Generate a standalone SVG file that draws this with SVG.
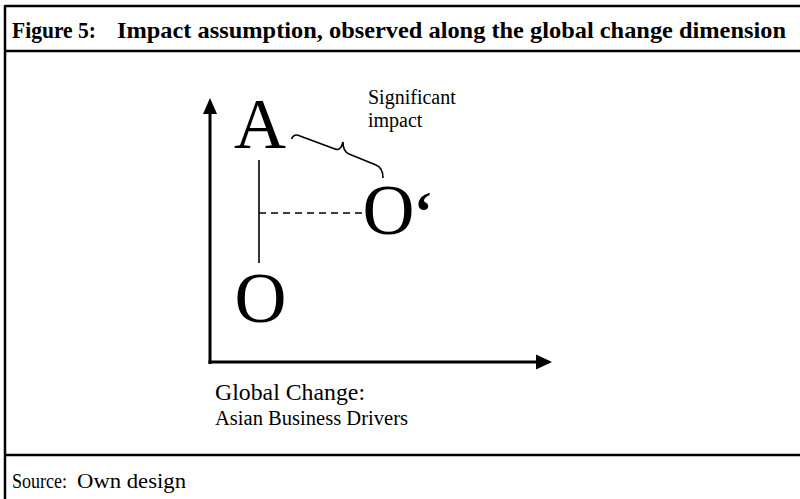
<svg xmlns="http://www.w3.org/2000/svg" width="800" height="499" viewBox="0 0 800 499">
<style>
.frame{stroke:#000;stroke-width:2.5;fill:none}
.serif{font-family:"Liberation Serif","Times New Roman",serif;fill:#000}
.big{font-size:72px}
.axis{stroke:#000;stroke-width:3;fill:none}
.thin{stroke:#000;stroke-width:1.6;fill:none}
</style>
<rect width="800" height="499" fill="#fff"/>
<g id="frame">
<line class="frame" x1="5" y1="6" x2="800" y2="6"/>
<line class="frame" x1="5" y1="51" x2="800" y2="51"/>
<line class="frame" x1="5" y1="455" x2="800" y2="455"/>
<line class="frame" x1="5" y1="5" x2="5" y2="499"/>
</g>
<g id="title">
<text class="serif" x="12" y="38" font-size="23" font-weight="bold" textLength="84" lengthAdjust="spacingAndGlyphs">Figure 5:</text>
<text class="serif" x="117" y="38" font-size="23" font-weight="bold" textLength="669" lengthAdjust="spacingAndGlyphs">Impact assumption, observed along the global change dimension</text>
</g>
<g id="source">
<text class="serif" x="12" y="488" font-size="20.5" textLength="55" lengthAdjust="spacingAndGlyphs">Source:</text>
<text class="serif" x="77" y="488" font-size="20.5" textLength="109" lengthAdjust="spacingAndGlyphs">Own design</text>
</g>
<g id="connectors">
<line class="axis" x1="210" y1="364" x2="210" y2="110"/>
<polygon points="210,98 203,114 217,114" fill="#000"/>
<line class="axis" x1="208.5" y1="362" x2="540" y2="362"/>
<polygon points="552,362 536,354.5 536,369.5" fill="#000"/>
<line class="thin" x1="259" y1="160" x2="259" y2="263"/>
<line class="thin" x1="259" y1="213" x2="363" y2="213" stroke-dasharray="7 5"/>
<path class="thin" stroke-width="2.4" d="M 291.5 139 C 293 135, 296 134, 300 136 L 335 149 C 340 151, 342 146, 343 142 C 343 147, 344 152, 349 154 L 376 165 C 381 167, 383 171, 383 178"/>
</g>
<g id="node-A">
<text class="serif big" x="234" y="148">A</text>
</g>
<g id="node-O">
<text class="serif big" x="234.5" y="322">O</text>
</g>
<g id="node-O-prime">
<text class="serif big" x="362.5" y="234">O</text>
<text class="serif" x="414" y="231" font-size="56" font-weight="bold">‘</text>
</g>
<g id="label-impact">
<text class="serif" x="368" y="104" font-size="20">Significant</text>
<text class="serif" x="368" y="127" font-size="20">impact</text>
</g>
<g id="label-axis">
<text class="serif" x="215" y="400" font-size="23" textLength="150" lengthAdjust="spacingAndGlyphs">Global Change:</text>
<text class="serif" x="215" y="425" font-size="20" textLength="193" lengthAdjust="spacingAndGlyphs">Asian Business Drivers</text>
</g>
</svg>
